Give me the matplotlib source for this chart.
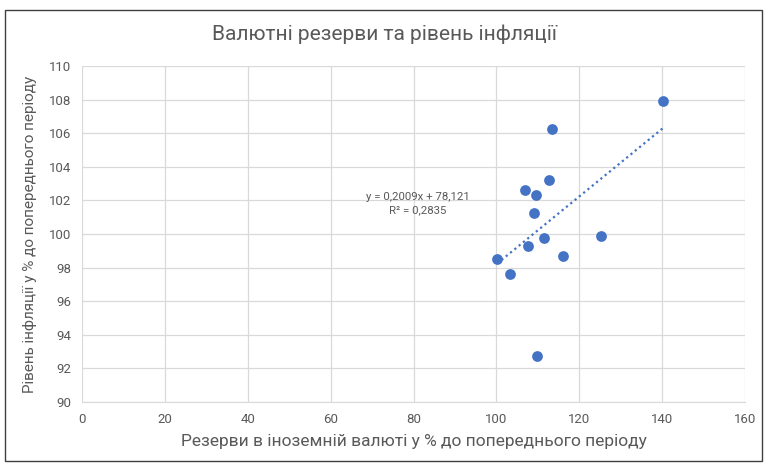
import numpy as np
import matplotlib
matplotlib.use("Agg")
import matplotlib.pyplot as plt
from matplotlib.patches import Rectangle

plt.rcParams["font.family"] = ["Roboto", "DejaVu Sans"]

reserves = [100.2, 103.3, 106.8, 109.5, 112.7, 113.5, 109.1, 107.6, 111.6, 116.0, 125.2, 109.9, 140.3]
inflation = [98.51, 97.62, 102.59, 102.33, 103.19, 106.25, 101.24, 99.31, 99.77, 98.67, 99.89, 92.74, 107.92]

title = "Валютні резерви та рівень інфляції"
x_label = "Резерви в іноземній валюті у % до попереднього періоду"
y_label = "Рівень інфляції у % до попереднього періоду"
eq_text = "y = 0,2009x + 78,121\nR² = 0,2835"

blue = "#4472C4"
gray = "#595959"

fig = plt.figure(figsize=(7.68, 4.66), dpi=100)
ax = fig.add_axes([82 / 768, 1 - 402 / 466, 663 / 768, 336 / 466])

# outer chart border
fig.patches.append(Rectangle((5 / 768, 1 - 461 / 466), 757 / 768, 451 / 466,
                             transform=fig.transFigure, fill=False,
                             edgecolor="#3f3f3f", linewidth=1.0))

ax.scatter(reserves, inflation, s=60, color=blue, zorder=3, linewidths=0)

# linear trendline
k, b = np.polyfit(reserves, inflation, 1)
xs = np.array([min(reserves), max(reserves)])
ax.plot(xs, k * xs + b, linestyle=(0, (1, 1.5)), color=blue, linewidth=1.6, zorder=2)

ax.text(81, 101.8, eq_text, ha="center", va="center", fontsize=8.2, color=gray,
        linespacing=1.35)

ax.set_xlim(0, 160)
ax.set_ylim(90, 110)
ax.set_xticks(range(0, 161, 20))
ax.set_yticks(range(90, 111, 2))
ax.grid(True, color="#d9d9d9", linewidth=0.9)
ax.set_axisbelow(True)
for side in ["top", "right", "left"]:
    ax.spines[side].set_visible(False)
ax.spines["bottom"].set_color("#d9d9d9")
ax.tick_params(length=0, labelsize=9.5, colors=gray, pad=8)

ax.set_xlabel(x_label, fontsize=12.5, color=gray, labelpad=6)
ax.set_ylabel(y_label, fontsize=11, color=gray, labelpad=8)
fig.text(0.5, 1 - 34 / 466, title, ha="center", va="center", fontsize=15, color=gray)

fig.savefig("out.png", dpi=100)
